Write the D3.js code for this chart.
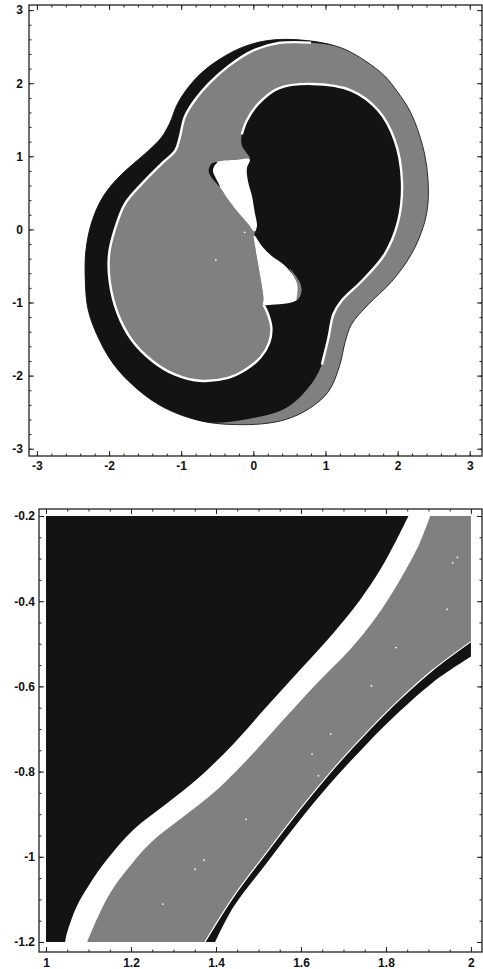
<!DOCTYPE html>
<html>
<head>
<meta charset="utf-8">
<script src="https://cdn.jsdelivr.net/npm/d3@7"></script>
<style>
  body { margin: 0; background: #fff; }
</style>
</head>
<body>
<div id="chart"></div>
<script>
// ---- top panel: basin boundaries, data coords ----
// outer edge, from the top going round the left side
const outerTopLeft = [[1.12,2.515],[0.85,2.57],[0.45,2.60],[0.12,2.57],[-0.18,2.48],[-0.48,2.32],[-0.72,2.14],[-0.92,1.92],[-1.06,1.70],[-1.16,1.45],[-1.28,1.25],[-1.45,1.08],[-1.66,0.90],[-1.90,0.68],[-2.10,0.42],[-2.24,0.10],[-2.32,-0.28],[-2.33,-0.68],[-2.29,-1.10],[-2.14,-1.50],[-1.94,-1.84],[-1.66,-2.14],[-1.34,-2.38],[-1.00,-2.54],[-0.62,-2.64]];
// outer edge, bottom and right side back to the top
const outerBottomRight = [[-0.25,-2.67],[0.12,-2.66],[0.45,-2.60],[0.76,-2.46],[1.04,-2.22],[1.20,-1.85],[1.27,-1.55],[1.36,-1.30],[1.59,-1.03],[1.92,-0.71],[2.19,-0.34],[2.36,0.05],[2.42,0.35],[2.42,0.70],[2.38,1.00],[2.30,1.30],[2.17,1.62],[2.00,1.88],[1.82,2.10],[1.56,2.30],[1.30,2.45]];
// inner edge of the thin grey strip (lower right)
const stripInner = [[-0.11,-2.60],[0.44,-2.45],[0.76,-2.17],[0.95,-1.85],[1.04,-1.49],[1.11,-1.16],[1.22,-0.98],[1.50,-0.71],[1.82,-0.34],[2.01,0.12]];
// edge of the black blob (upper right)
const blobEdge = [[2.06,0.67],[1.96,1.22],[1.73,1.63],[1.36,1.90],[0.81,1.99],[0.35,1.93],[0.07,1.72],[-0.09,1.49],[-0.16,1.30],[-0.16,1.15],[-0.05,0.96]];
// grey/black edge through the centre
const holeEdge = [[-0.25,0.95],[-0.44,0.94],[-0.58,0.90],[-0.62,0.80],[-0.58,0.71],[-0.46,0.57],[-0.35,0.41],[-0.21,0.23],[-0.07,0.07],[0.02,-0.03],[0.01,-0.08],[0.03,-0.27],[0.07,-0.50],[0.11,-0.73],[0.14,-0.94],[0.14,-1.03]];
// edge of the grey lobe (lower left)
const lobeEdge = [[0.20,-1.15],[0.25,-1.35],[0.22,-1.55],[0.10,-1.75],[-0.11,-1.92],[-0.35,-2.03],[-0.75,-2.07],[-1.10,-1.98],[-1.40,-1.80],[-1.68,-1.52],[-1.88,-1.15],[-1.99,-0.72],[-2.00,-0.34],[-1.92,0.00],[-1.78,0.35],[-1.55,0.62],[-1.27,0.90],[-1.08,1.08]];
// left edge of the grey band (upper left)
const bandEdge = [[-1.02,1.26],[-0.95,1.54],[-0.81,1.77],[-0.62,1.99],[-0.35,2.23],[-0.02,2.44],[0.35,2.55],[0.80,2.555],[0.95,2.54]];
const upperHole = [[-0.05,0.96],[-0.25,0.95],[-0.44,0.94],[-0.58,0.90],[-0.62,0.80],[-0.58,0.71],[-0.46,0.57],[-0.35,0.41],[-0.21,0.23],[-0.07,0.07],[0.02,-0.03],[0.05,0.05],[0.02,0.23],[-0.02,0.46],[-0.07,0.64],[-0.09,0.83]];
const lowerHole = [[0.01,-0.08],[0.12,-0.23],[0.25,-0.36],[0.42,-0.48],[0.55,-0.62],[0.65,-0.75],[0.66,-0.87],[0.60,-0.97],[0.48,-1.01],[0.25,-1.03],[0.14,-1.03],[0.14,-0.94],[0.11,-0.73],[0.07,-0.50],[0.03,-0.27]];
const upperSliver = [[-0.50,0.92],[-0.58,0.90],[-0.62,0.80],[-0.58,0.71],[-0.46,0.58],[-0.53,0.72],[-0.56,0.80],[-0.54,0.87]];
const lowerSliver = [[0.50,-0.53],[0.60,-0.65],[0.66,-0.77],[0.66,-0.87],[0.60,-0.97],[0.61,-0.87],[0.61,-0.76],[0.56,-0.64]];
const topDots = [[-0.12,-0.04],[-0.52,-0.42]];
const topTicks = [-3, -2, -1, 0, 1, 2, 3];
const topTickLabels = ['-3', '-2', '-1', '0', '1', '2', '3'];

// ---- bottom panel: zoom on [1,2] x [-1.2,-0.2] ----
const zoomBlackEdge = [[1.853,-0.2],[1.825,-0.256],[1.786,-0.327],[1.739,-0.397],[1.676,-0.475],[1.598,-0.561],[1.519,-0.648],[1.441,-0.735],[1.362,-0.812],[1.284,-0.875],[1.205,-0.937],[1.143,-1.007],[1.104,-1.062],[1.072,-1.117],[1.049,-1.18],[1.045,-1.2]];
const zoomGrayLeft = [[1.904,-0.2],[1.880,-0.262],[1.833,-0.350],[1.778,-0.436],[1.715,-0.514],[1.637,-0.593],[1.558,-0.679],[1.480,-0.765],[1.402,-0.843],[1.323,-0.906],[1.245,-0.968],[1.190,-1.031],[1.151,-1.085],[1.119,-1.148],[1.097,-1.2]];
const zoomGrayRight = [[1.374,-1.2],[1.441,-1.094],[1.519,-0.990],[1.598,-0.888],[1.676,-0.794],[1.755,-0.708],[1.833,-0.630],[1.911,-0.561],[2.0,-0.495]];
const zoomStripLower = [[1.398,-1.2],[1.441,-1.118],[1.519,-1.015],[1.598,-0.913],[1.676,-0.820],[1.755,-0.735],[1.833,-0.658],[1.911,-0.590],[2.0,-0.530]];
const zoomDots = [[1.968,-0.297],[1.957,-0.310],[1.944,-0.419],[1.824,-0.509],[1.766,-0.599],[1.670,-0.712],[1.626,-0.759],[1.641,-0.810],[1.471,-0.912],[1.372,-1.008],[1.351,-1.029],[1.275,-1.111]];
const zoomXTicks = [1, 1.2, 1.4, 1.6, 1.8, 2];
const zoomXLabels = ['1', '1.2', '1.4', '1.6', '1.8', '2'];
const zoomYTicks = [-1.2, -1, -0.8, -0.6, -0.4, -0.2];
const zoomYLabels = ['-1.2', '-1', '-0.8', '-0.6', '-0.4', '-0.2'];

const BLACK = '#131313', GRAY = '#808080';

let svg = d3.select('#chart')
    .append('svg')
    .attr('width', 483)
    .attr('height', 969);

function addFrame(g, x, y, opts) {
    let [x0, x1] = x.range();
    let [y0, y1] = y.range();
    let font = g => g.attr('font-family', '"Liberation Sans", Arial, sans-serif')
        .attr('font-size', 12).attr('font-weight', 'bold');

    let sides = [
        [d3.axisBottom, `translate(0,${y0})`, x, opts.xTicks, opts.xLabels, opts.xPad, opts.xMinor],
        [d3.axisTop, `translate(0,${y1})`, x, opts.xTicks, null, 0, opts.xMinor],
        [d3.axisLeft, `translate(${x0},0)`, y, opts.yTicks, opts.yLabels, opts.yPad, opts.yMinor],
        [d3.axisRight, `translate(${x1},0)`, y, opts.yTicks, null, 0, opts.yMinor]
    ];
    sides.forEach(([axisFn, tr, scale, ticks, labels, pad, minor]) => {
        g.append('g').attr('transform', tr)
            .call(axisFn(scale).tickValues(scale.ticks(minor)).tickSize(-2.5).tickSizeOuter(0).tickFormat(''));
        g.append('g').attr('transform', tr)
            .call(axisFn(scale).tickValues(ticks).tickSize(-5).tickSizeOuter(0).tickPadding(pad)
                .tickFormat((d, i) => labels ? labels[i] : ''))
            .call(font);
    });
    g.selectAll('.domain').remove();
    g.selectAll('.tick line').attr('stroke', '#222');
    g.selectAll('.tick text').attr('fill', '#111');

    g.append('rect')
        .attr('x', x0).attr('y', y1)
        .attr('width', x1 - x0).attr('height', y0 - y1)
        .attr('fill', 'none').attr('stroke', '#222').attr('stroke-width', 1.3);
}

// ---------------- top panel ----------------
let topX = d3.scaleLinear().domain([-3.11, 3.17]).range([29, 482]);
let topY = d3.scaleLinear().domain([-3.1, 3.07]).range([456, 5]);
let topLine = d3.line().x(d => topX(d[0])).y(d => topY(d[1])).curve(d3.curveCatmullRom.alpha(0.5));
let topShape = d3.line().x(d => topX(d[0])).y(d => topY(d[1])).curve(d3.curveCatmullRomClosed.alpha(0.5));

let topPanel = svg.append('g');

topPanel.append('path')
    .attr('d', topShape([...outerTopLeft, ...outerBottomRight]))
    .attr('fill', GRAY).attr('stroke', '#2a2a2a').attr('stroke-width', 1);

topPanel.append('path')
    .attr('d', topShape([...outerTopLeft, ...stripInner, ...blobEdge, ...holeEdge, ...lobeEdge, ...bandEdge]))
    .attr('fill', BLACK);

// white separating curves
topPanel.append('path')
    .attr('d', topLine([...holeEdge.slice(-1), ...lobeEdge, ...bandEdge.slice(0, -1)]))
    .attr('fill', 'none').attr('stroke', '#fff').attr('stroke-width', 2.4);
topPanel.append('path')
    .attr('d', topLine([...stripInner.slice(3), ...blobEdge.slice(0, -2)]))
    .attr('fill', 'none').attr('stroke', '#fff').attr('stroke-width', 2.4);

topPanel.append('path').attr('d', topShape(upperHole)).attr('fill', '#fff');
topPanel.append('path').attr('d', topShape(lowerHole)).attr('fill', '#fff');
topPanel.append('path').attr('d', topShape(upperSliver)).attr('fill', BLACK);
topPanel.append('path').attr('d', topShape(lowerSliver)).attr('fill', GRAY);

topPanel.selectAll('circle')
    .data(topDots)
    .enter()
    .append('circle')
    .attr('cx', d => topX(d[0]))
    .attr('cy', d => topY(d[1]))
    .attr('r', 0.9)
    .attr('fill', '#fff');

addFrame(topPanel, topX, topY, {
    xTicks: topTicks, xLabels: topTickLabels, xPad: 5, xMinor: 30,
    yTicks: topTicks, yLabels: topTickLabels, yPad: 6, yMinor: 30
});

// ---------------- bottom panel ----------------
let zx = d3.scaleLinear().domain([0.9835, 2.026]).range([39, 482]);
let zy = d3.scaleLinear().domain([-1.2235, -0.1836]).range([952, 509]);
let zLine = d3.line().x(d => zx(d[0])).y(d => zy(d[1])).curve(d3.curveCatmullRom.alpha(0.5));
let cont = p => p.replace(/^M/, 'L');

let zoomPanel = svg.append('g');

zoomPanel.append('clipPath').attr('id', 'zoom-clip')
    .append('rect')
    .attr('x', zx(1)).attr('y', zy(-0.2))
    .attr('width', zx(2) - zx(1)).attr('height', zy(-1.2) - zy(-0.2));

let plot = zoomPanel.append('g').attr('clip-path', 'url(#zoom-clip)');

plot.append('path')
    .attr('d', zLine(zoomBlackEdge) + `L${zx(1)},${zy(-1.2)}L${zx(1)},${zy(-0.2)}Z`)
    .attr('fill', BLACK);

plot.append('path')
    .attr('d', zLine(zoomGrayLeft) + cont(zLine(zoomGrayRight)) + `L${zx(2)},${zy(-0.2)}Z`)
    .attr('fill', GRAY);

plot.append('path')
    .attr('d', zLine(zoomGrayRight) + cont(zLine(zoomStripLower.slice().reverse())) + 'Z')
    .attr('fill', BLACK);

plot.append('path')
    .attr('d', zLine(zoomGrayRight))
    .attr('fill', 'none').attr('stroke', '#fff').attr('stroke-width', 1.2);

plot.selectAll('circle')
    .data(zoomDots)
    .enter()
    .append('circle')
    .attr('cx', d => zx(d[0]))
    .attr('cy', d => zy(d[1]))
    .attr('r', 0.9)
    .attr('fill', '#fff');

addFrame(zoomPanel, zx, zy, {
    xTicks: zoomXTicks, xLabels: zoomXLabels, xPad: 6, xMinor: 20,
    yTicks: zoomYTicks, yLabels: zoomYLabels, yPad: 4, yMinor: 20
});
</script>
</body>
</html>
